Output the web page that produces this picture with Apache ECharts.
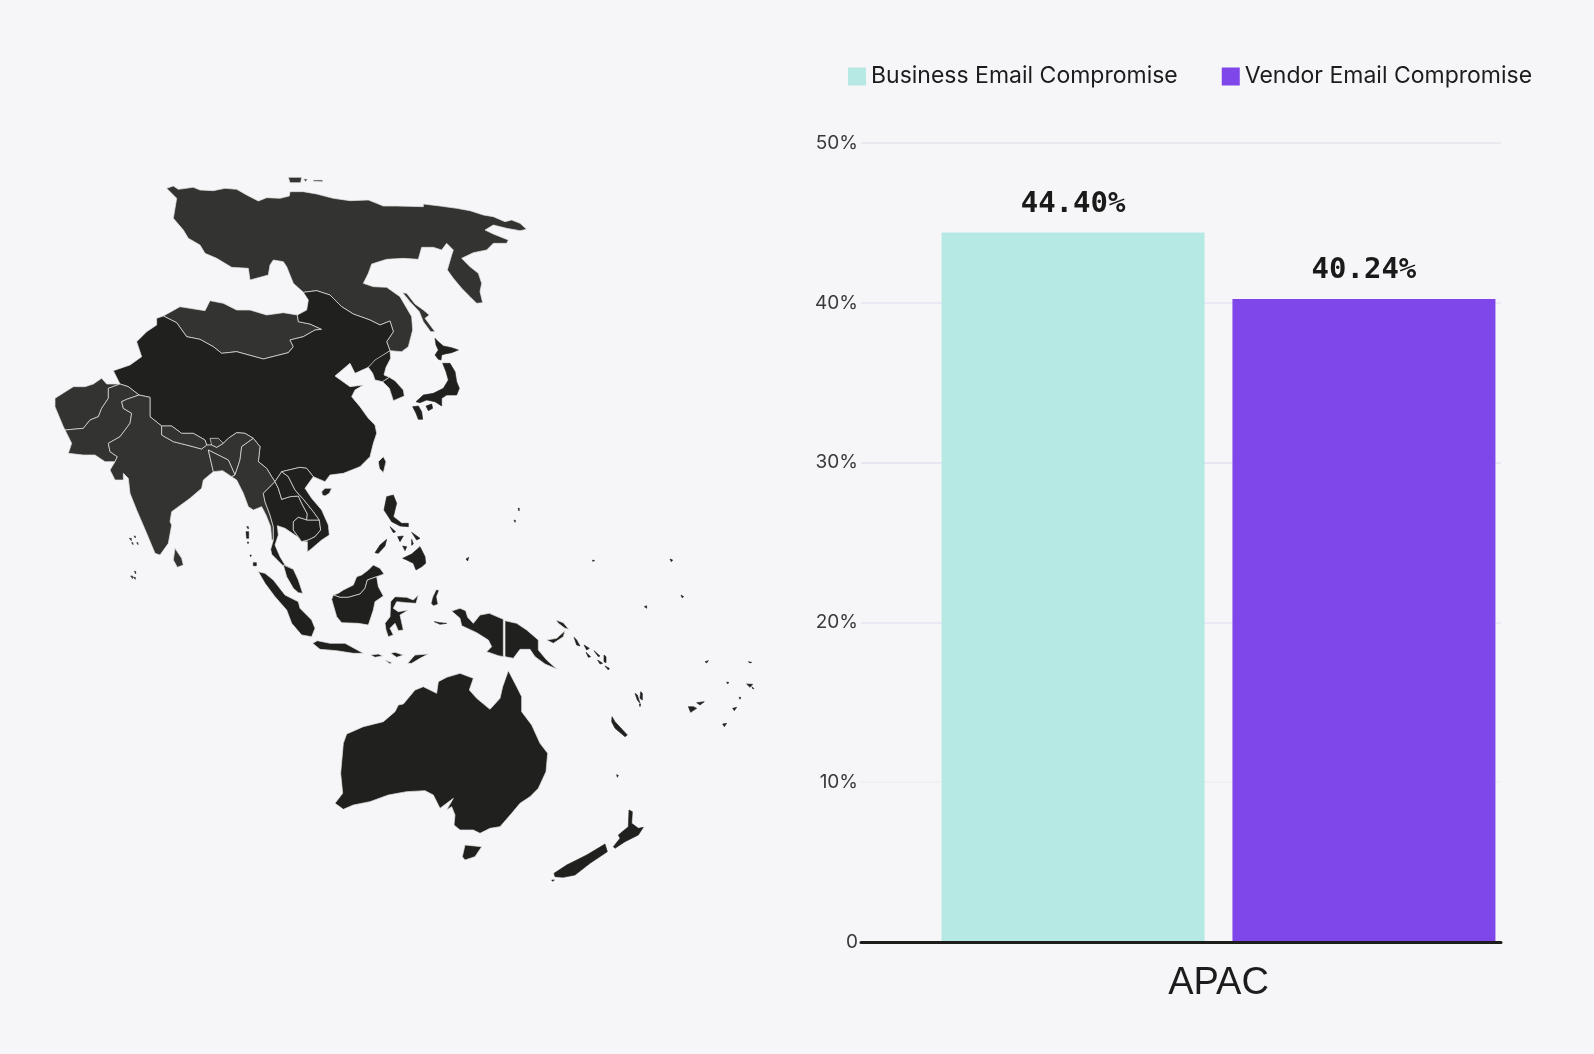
<!DOCTYPE html>
<html>
<head>
<meta charset="utf-8">
<title>APAC</title>
<script src="https://cdn.jsdelivr.net/npm/echarts@6/dist/echarts.min.js"></script>
<style>
  html, body { margin: 0; padding: 0; background: #f6f6f9; }
  #chart { width: 1594px; height: 1054px; }
</style>
</head>
<body>
<div id="chart"></div>
<script>
// bar data
const categories = ['APAC'];
const businessEmail = [44.40];
const vendorEmail = [40.24];
const seriesNames = ['Business Email Compromise', 'Vendor Email Compromise'];

// map outlines, traced in thirds of a pixel, grouped by the crop they came from
const frameOffsets = { a: [120, 480], b: [900, 1440], c: [690, 1380], d: [1080, 840] };

const russia = [[380,85],[400,78],[415,88],[460,82],[480,90],[520,92],[555,85],[590,88],[620,105],[655,123],[680,113],[720,115],[748,108],[750,95],[790,95],[830,102],[880,115],[930,122],[985,120],[1010,130],[1030,138],[1070,138],[1150,140],[1150,132],[1200,138],[1250,145],[1290,152],[1330,165],[1360,170],[1395,185],[1415,180],[1440,190],[1460,208],[1440,212],[1400,205],[1360,195],[1335,210],[1360,222],[1405,240],[1400,250],[1360,250],[1340,270],[1300,278],[1265,295],[1290,320],[1315,340],[1325,370],[1320,395],[1328,428],[1310,430],[1290,410],[1265,385],[1240,355],[1222,330],[1235,285],[1240,270],[1220,250],[1205,270],[1180,262],[1145,262],[1135,298],[1090,295],[1040,298],[995,312],[985,340],[970,370],[1000,380],[1040,382],[1080,410],[1115,470],[1118,510],[1105,560],[1085,575],[1050,572],[1040,545],[1060,515],[1050,483],[1020,495],[990,480],[940,462],[905,440],[870,405],[830,392],[790,397],[760,370],[740,320],[730,305],[700,300],[690,315],[685,345],[630,360],[625,325],[575,322],[530,295],[495,280],[480,255],[445,235],[430,210],[400,175],[410,115]];
const russiaArctic = [[[745,52],[785,52],[782,68],[750,68]], [[790,57],[803,57],[797,65]], [[820,60],[848,60],[848,65],[820,64]]];
const mongolia = [[370,468],[420,440],[450,445],[495,452],[510,422],[550,430],[590,450],[630,450],[680,465],[730,458],[772,465],[775,485],[810,492],[845,508],[825,510],[790,530],[750,540],[760,560],[745,578],[670,597],[590,575],[545,580],[520,560],[480,538],[440,530],[410,488]];
const china = [[370,468],[410,488],[440,530],[480,538],[520,560],[545,580],[590,575],[670,597],[745,578],[760,560],[750,540],[790,530],[825,510],[845,508],[810,492],[775,485],[772,465],[800,450],[805,420],[790,397],[830,392],[870,405],[905,440],[940,462],[990,480],[1020,495],[1050,483],[1060,515],[1040,545],[1050,572],[1025,590],[985,622],[945,640],[930,610],[885,648],[930,680],[970,675],[945,690],[935,710],[960,740],[985,775],[1005,795],[1010,820],[1000,850],[990,890],[960,920],[910,940],[870,945],[855,965],[820,950],[800,925],[780,922],[725,935],[705,965],[695,950],[680,925],[655,905],[660,860],[640,835],[615,820],[590,818],[565,835],[550,850],[530,862],[515,855],[500,855],[495,840],[460,820],[425,820],[395,798],[365,798],[330,770],[330,712],[297,705],[265,680],[240,672],[220,632],[270,615],[305,590],[290,545],[320,515],[350,495],[350,475]];
const chinaIslands = [[[1015,905],[1030,890],[1038,905],[1030,938],[1018,925]], [[845,995],[855,985],[875,985],[868,1000],[855,1008],[847,1005]]];
const afghanistan = [[45,715],[100,680],[135,680],[160,672],[185,655],[200,672],[240,672],[205,685],[205,715],[185,745],[175,770],[150,780],[130,805],[75,810],[70,800],[45,740]];
const pakistan = [[75,810],[130,805],[150,780],[175,770],[185,745],[205,715],[205,685],[240,672],[265,680],[297,705],[260,718],[245,725],[250,745],[275,760],[270,790],[240,830],[205,850],[210,875],[232,890],[225,905],[195,905],[165,885],[130,885],[85,880],[95,850]];
const india = [[297,705],[330,712],[330,770],[365,798],[365,825],[400,845],[440,855],[485,867],[500,855],[515,855],[530,862],[550,850],[565,835],[590,818],[615,820],[640,835],[605,860],[600,900],[585,945],[565,900],[545,890],[505,870],[520,935],[490,960],[485,985],[450,1015],[395,1055],[390,1085],[395,1095],[385,1150],[360,1185],[345,1180],[320,1120],[290,1050],[270,1000],[265,955],[250,940],[250,960],[225,960],[210,930],[225,905],[232,890],[210,875],[205,850],[240,830],[270,790],[275,760],[250,745],[245,725],[260,718]];
const nepal = [[365,798],[395,798],[425,820],[460,820],[495,840],[500,855],[485,867],[440,855],[400,845],[365,825]];
const bhutan = [[510,835],[535,835],[550,850],[530,862],[515,855]];
const bangladesh = [[505,870],[545,890],[565,900],[585,945],[575,950],[548,932],[520,935]];
const myanmar = [[640,835],[660,860],[655,905],[680,925],[695,950],[705,965],[670,1000],[675,1025],[690,1065],[700,1100],[700,1140],[695,1140],[692,1100],[678,1065],[665,1040],[640,1050],[625,1040],[610,1000],[590,960],[575,950],[585,945],[600,900],[605,860]];
const sriLanka = [[405,1165],[425,1195],[430,1215],[412,1222],[400,1200]];
const maldives = [[[268,1135],[274,1135],[274,1142]], [[282,1128],[286,1128],[286,1134]], [[290,1148],[294,1148],[294,1154]], [[275,1148],[279,1148],[279,1154]], [[272,1248],[278,1248],[278,1256]], [[283,1234],[287,1234],[287,1242]], [[280,1252],[286,1252],[286,1258]]];

const thailand = [[100,100],[135,65],[145,85],[155,118],[180,110],[205,108],[215,130],[232,162],[230,180],[205,172],[190,185],[190,210],[215,245],[205,232],[165,205],[142,197],[145,225],[135,255],[150,290],[165,315],[190,328],[160,318],[125,283],[122,268],[130,240],[130,200],[120,165],[105,125]];
const cambodia = [[190,185],[205,172],[230,180],[268,180],[272,210],[255,230],[235,240],[215,245],[190,210]];
const laos = [[135,65],[155,35],[175,50],[195,90],[222,120],[250,155],[268,180],[230,180],[232,162],[215,130],[205,108],[180,110],[155,118],[145,85]];
const vietnam = [[155,35],[210,22],[230,25],[250,50],[225,85],[245,115],[275,150],[295,195],[298,225],[275,240],[240,270],[232,275],[232,245],[215,245],[235,240],[255,230],[272,210],[268,180],[250,155],[222,120],[195,90],[175,50]];
const malaysiaWest = [[160,315],[190,328],[205,360],[218,400],[205,398],[190,385],[170,350]];
const malaysiaBorneo = [[310,405],[330,412],[355,412],[390,402],[405,385],[412,360],[440,350],[462,342],[450,325],[430,315],[415,330],[395,345],[380,350],[370,375],[340,390],[325,400]];
const indonesiaWest = [
  [[85,335],[105,340],[130,360],[165,405],[205,425],[210,445],[245,480],[255,505],[245,530],[215,525],[185,490],[170,450],[135,410],[105,370]],
  [[248,550],[262,542],[300,550],[345,550],[400,580],[370,580],[320,572],[270,568]],
  [[422,585],[445,582],[458,588],[435,592]],
  [[482,580],[495,577],[520,585],[500,592]],
  [[465,600],[485,608],[480,612]],
  [[533,610],[555,585],[595,582],[570,595],[545,610]],
  [[305,418],[310,405],[330,412],[355,412],[390,402],[405,385],[412,360],[440,350],[445,380],[460,408],[435,425],[430,450],[415,495],[385,490],[335,488],[320,470]],
  [[465,490],[480,470],[482,425],[495,410],[530,412],[550,420],[565,405],[558,430],[530,428],[500,425],[490,445],[505,455],[535,450],[510,465],[520,510],[505,512],[495,490],[480,505],[490,525],[475,530],[468,510]]
];
const philippines = [
  [[470,110],[490,105],[500,130],[490,170],[515,190],[535,190],[535,200],[510,198],[485,185],[462,150]],
  [[435,278],[450,255],[470,238],[465,258],[445,280]],
  [[518,295],[545,282],[570,260],[585,290],[587,310],[575,320],[558,330],[550,310],[530,300]],
  [[480,200],[497,215],[490,218]],
  [[503,230],[520,228],[510,245]],
  [[518,258],[530,260],[525,272]],
  [[545,238],[550,252],[545,256]],
  [[545,217],[570,235],[560,240]]
];
const andaman = [[[50,200],[55,200],[55,207]], [[48,215],[56,215],[56,235],[50,235]], [[52,246],[56,246],[54,251]], [[60,285],[64,285],[62,290]], [[70,308],[79,308],[79,317],[70,317]]];

const northKorea = [[25,262],[45,240],[90,212],[92,235],[78,262],[72,285],[88,292],[68,305],[45,300],[38,280]];
const southKorea = [[68,305],[88,292],[105,302],[130,330],[133,348],[100,362],[88,325]];
const sakhalin = [[128,38],[140,40],[165,72],[190,90],[208,105],[195,115],[225,155],[212,155],[190,125],[178,95],[150,65]];
const japan = [
  [[225,175],[235,185],[250,198],[275,203],[295,210],[275,218],[255,222],[245,225],[243,240],[235,238],[225,225],[235,210],[228,195]],
  [[248,250],[270,250],[285,275],[290,305],[298,325],[290,345],[260,345],[245,355],[245,378],[225,365],[200,360],[180,368],[168,365],[190,345],[220,340],[250,325],[265,300],[258,275]],
  [[158,380],[175,378],[185,395],[188,418],[175,418],[168,400]],
  [[198,378],[215,372],[218,385],[205,392]]
];

const australia = [[105,970],[128,940],[122,880],[130,790],[140,762],[190,740],[250,725],[285,695],[295,675],[310,672],[345,630],[370,620],[410,640],[415,605],[440,592],[480,580],[520,595],[508,630],[530,655],[570,688],[600,655],[608,620],[625,572],[650,620],[665,650],[665,695],[695,735],[720,790],[743,820],[738,875],[715,925],[690,950],[660,970],[635,1000],[600,1040],[570,1045],[540,1060],[520,1050],[480,1050],[462,1035],[465,1005],[455,980],[440,990],[460,955],[420,985],[400,945],[375,932],[320,935],[265,945],[210,965],[160,975],[130,988]];
const tasmania = [[495,1095],[545,1100],[525,1130],[495,1140],[487,1130]];
const newZealand = [
  [[762,1180],[800,1155],[860,1125],[915,1092],[922,1115],[870,1150],[825,1185],[790,1192],[765,1190]],
  [[987,990],[997,995],[995,1030],[1015,1045],[1030,1042],[1015,1065],[975,1085],[945,1105],[940,1100],[960,1075],[955,1065],[985,1040]],
  [[755,1200],[763,1200],[758,1204]]
];
const papua = [[455,393],[480,385],[497,392],[503,412],[520,430],[540,405],[568,400],[610,418],[610,530],[595,527],[560,515],[575,500],[565,480],[530,458],[485,437],[480,415]];
const moluccas = [[[395,370],[400,350],[410,330],[415,332],[408,350],[412,372],[400,376]], [[403,425],[420,428],[440,430],[420,433]]];
const papuaNewGuinea = [
  [[615,422],[650,430],[680,450],[715,480],[715,510],[740,540],[770,567],[735,552],[705,530],[690,508],[660,508],[640,535],[615,530]],
  [[740,480],[770,475],[795,452],[790,470],[760,490]],
  [[768,420],[790,428],[806,448],[795,445],[775,430]]
];
const pacificIslands = [
  [[822,472],[830,480],[840,498],[830,495]], [[852,495],[868,505],[860,510]], [[858,517],[872,530],[865,532]], [[882,512],[900,528],[895,530]],
  [[912,525],[918,530],[918,548],[912,545]], [[893,540],[908,550],[900,552]], [[915,558],[928,565],[925,570]],
  [[1005,640],[1012,645],[1020,670],[1012,660]], [[1022,635],[1027,640],[1027,660],[1020,655]], [[1018,672],[1022,672],[1020,680]],
  [[936,710],[945,725],[982,765],[975,770],[945,745],[935,725]],
  [[1165,680],[1180,680],[1190,685],[1172,697]], [[1190,668],[1213,665],[1200,675]],
  [[1298,685],[1310,682],[1303,692]], [[1268,732],[1280,730],[1273,740]], [[1215,545],[1225,542],[1220,549]], [[1345,545],[1355,547],[1350,549]],
  [[1280,606],[1287,608],[1282,611]], [[1340,612],[1358,613],[1350,622]], [[1356,620],[1362,626],[1358,626]], [[1317,652],[1322,652],[1320,658]],
  [[1033,380],[1040,377],[1040,385]], [[1143,345],[1151,350],[1146,353]], [[1110,237],[1118,240],[1114,245]], [[878,240],[884,242],[878,244]],
  [[654,85],[658,85],[657,93]], [[642,120],[647,122],[645,127]], [[498,237],[506,232],[503,243]], [[950,884],[955,886],[952,892]]
];

// name, crop, shade, rings
const mapRegions = [
  ['Russia', 'a', 'light', [russia, ...russiaArctic]],
  ['Mongolia', 'a', 'light', [mongolia]],
  ['China', 'a', 'dark', [china, ...chinaIslands]],
  ['Afghanistan', 'a', 'light', [afghanistan]],
  ['Pakistan', 'a', 'light', [pakistan]],
  ['India', 'a', 'light', [india]],
  ['Nepal', 'a', 'light', [nepal]],
  ['Bhutan', 'a', 'light', [bhutan]],
  ['Bangladesh', 'a', 'light', [bangladesh]],
  ['Myanmar', 'a', 'light', [myanmar]],
  ['Sri Lanka', 'a', 'light', [sriLanka]],
  ['Maldives', 'a', 'isleLight', maldives],
  ['Thailand', 'c', 'dark', [thailand]],
  ['Cambodia', 'c', 'dark', [cambodia]],
  ['Laos', 'c', 'dark', [laos]],
  ['Vietnam', 'c', 'dark', [vietnam]],
  ['Malaysia', 'c', 'dark', [malaysiaWest, malaysiaBorneo]],
  ['Indonesia', 'c', 'dark', indonesiaWest],
  ['Philippines', 'c', 'isle', philippines],
  ['Andaman', 'c', 'isle', andaman],
  ['North Korea', 'd', 'dark', [northKorea]],
  ['South Korea', 'd', 'dark', [southKorea]],
  ['Sakhalin', 'd', 'light', [sakhalin]],
  ['Japan', 'd', 'isle', japan],
  ['Australia', 'b', 'dark', [australia, tasmania]],
  ['New Zealand', 'b', 'isle', newZealand],
  ['Papua', 'b', 'dark', [papua]],
  ['Moluccas', 'b', 'isle', moluccas],
  ['Papua New Guinea', 'b', 'dark', papuaNewGuinea],
  ['Pacific Islands', 'b', 'isle', pacificIslands]
];

const lightLand = '#333331';
const darkLand = '#20201e';
const borderColor = '#e4e4e4';
const pageColor = '#f6f6f9';

function toFeature(region) {
  const [dx, dy] = frameOffsets[region[1]];
  return {
    type: 'Feature',
    properties: { name: region[0] },
    geometry: {
      type: 'MultiPolygon',
      coordinates: region[3].map(ring => {
        const pts = ring.map(p => [p[0] + dx, p[1] + dy]);
        pts.push(pts[0]);
        return [pts];
      })
    }
  };
}

function regionStyle(region) {
  const shade = region[2];
  if (shade === 'isle') return { areaColor: darkLand, borderColor: darkLand, borderWidth: 0.6 };
  if (shade === 'isleLight') return { areaColor: lightLand, borderColor: lightLand, borderWidth: 0.6 };
  return { areaColor: shade === 'light' ? lightLand : darkLand, borderColor: borderColor, borderWidth: 0.7 };
}

function barLabel() {
  return {
    show: true,
    position: 'top',
    distance: 14,
    fontFamily: 'DejaVu Sans Mono',
    fontWeight: 'bold',
    fontSize: 29,
    color: '#1a1a1a',
    formatter: p => p.value.toFixed(2) + '%'
  };
}

echarts.registerMap('apac', { type: 'FeatureCollection', features: mapRegions.map(toFeature) });

const chart = echarts.init(document.getElementById('chart'));
const options = {
  backgroundColor: pageColor,
  animation: false,
  legend: {
    left: 843,
    top: 60,
    icon: 'rect',
    itemWidth: 18,
    itemHeight: 18,
    itemGap: 44,
    data: seriesNames,
    textStyle: { fontFamily: 'Inter', fontSize: 23, color: '#1c1c1c' }
  },
  geo: {
    map: 'apac',
    silent: true,
    left: 0,
    top: 0,
    width: 800,
    height: 1054,
    aspectScale: 1,
    boundingCoords: [[0, 0], [2400, 3162]],
    projection: { project: p => p, unproject: p => p },
    label: { show: false },
    itemStyle: { areaColor: darkLand, borderColor: borderColor, borderWidth: 0.7 },
    regions: mapRegions.map(r => ({ name: r[0], itemStyle: regionStyle(r) }))
  },
  grid: [
    { left: 861, top: 143, width: 640, height: 799 },
    { left: 936, top: 143, width: 565, height: 799 }
  ],
  xAxis: [
    {
      gridIndex: 0,
      type: 'category',
      data: categories,
      z: 5,
      axisLine: { lineStyle: { color: '#1d1d1b', width: 3 } },
      axisTick: { show: false },
      axisLabel: { show: false }
    },
    {
      gridIndex: 1,
      type: 'category',
      data: categories,
      axisLine: { show: false },
      axisTick: { show: false },
      axisLabel: { margin: 23, fontFamily: 'Liberation Sans', fontSize: 38, color: '#1c1c1c' }
    }
  ],
  yAxis: [
    {
      gridIndex: 0,
      type: 'value',
      min: 0,
      max: 50,
      interval: 10,
      axisLine: { show: false },
      axisTick: { show: false },
      axisLabel: {
        margin: 3,
        padding: [3, 0, 0, 0],
        fontFamily: 'Inter',
        fontSize: 19,
        color: '#3a3a3c',
        formatter: v => (v === 0 ? '0' : v + '%')
      },
      splitLine: {
        lineStyle: { width: 2, color: ['#f6f6f9', '#edf1f0', '#e9e9f5', '#e6e6f2', '#e9e8f5', '#e8e8ee'] }
      }
    },
    { gridIndex: 1, type: 'value', min: 0, max: 50, interval: 10, show: false }
  ],
  series: [
    {
      name: seriesNames[0],
      type: 'bar',
      xAxisIndex: 1,
      yAxisIndex: 1,
      data: businessEmail,
      barWidth: 263,
      barGap: '10.6%',
      itemStyle: { color: '#b6e9e3' },
      label: barLabel()
    },
    {
      name: seriesNames[1],
      type: 'bar',
      xAxisIndex: 1,
      yAxisIndex: 1,
      data: vendorEmail,
      barWidth: 263,
      barGap: '10.6%',
      itemStyle: { color: '#7f46ea' },
      label: barLabel()
    }
  ]
};
chart.setOption(options);
</script>
</body>
</html>
